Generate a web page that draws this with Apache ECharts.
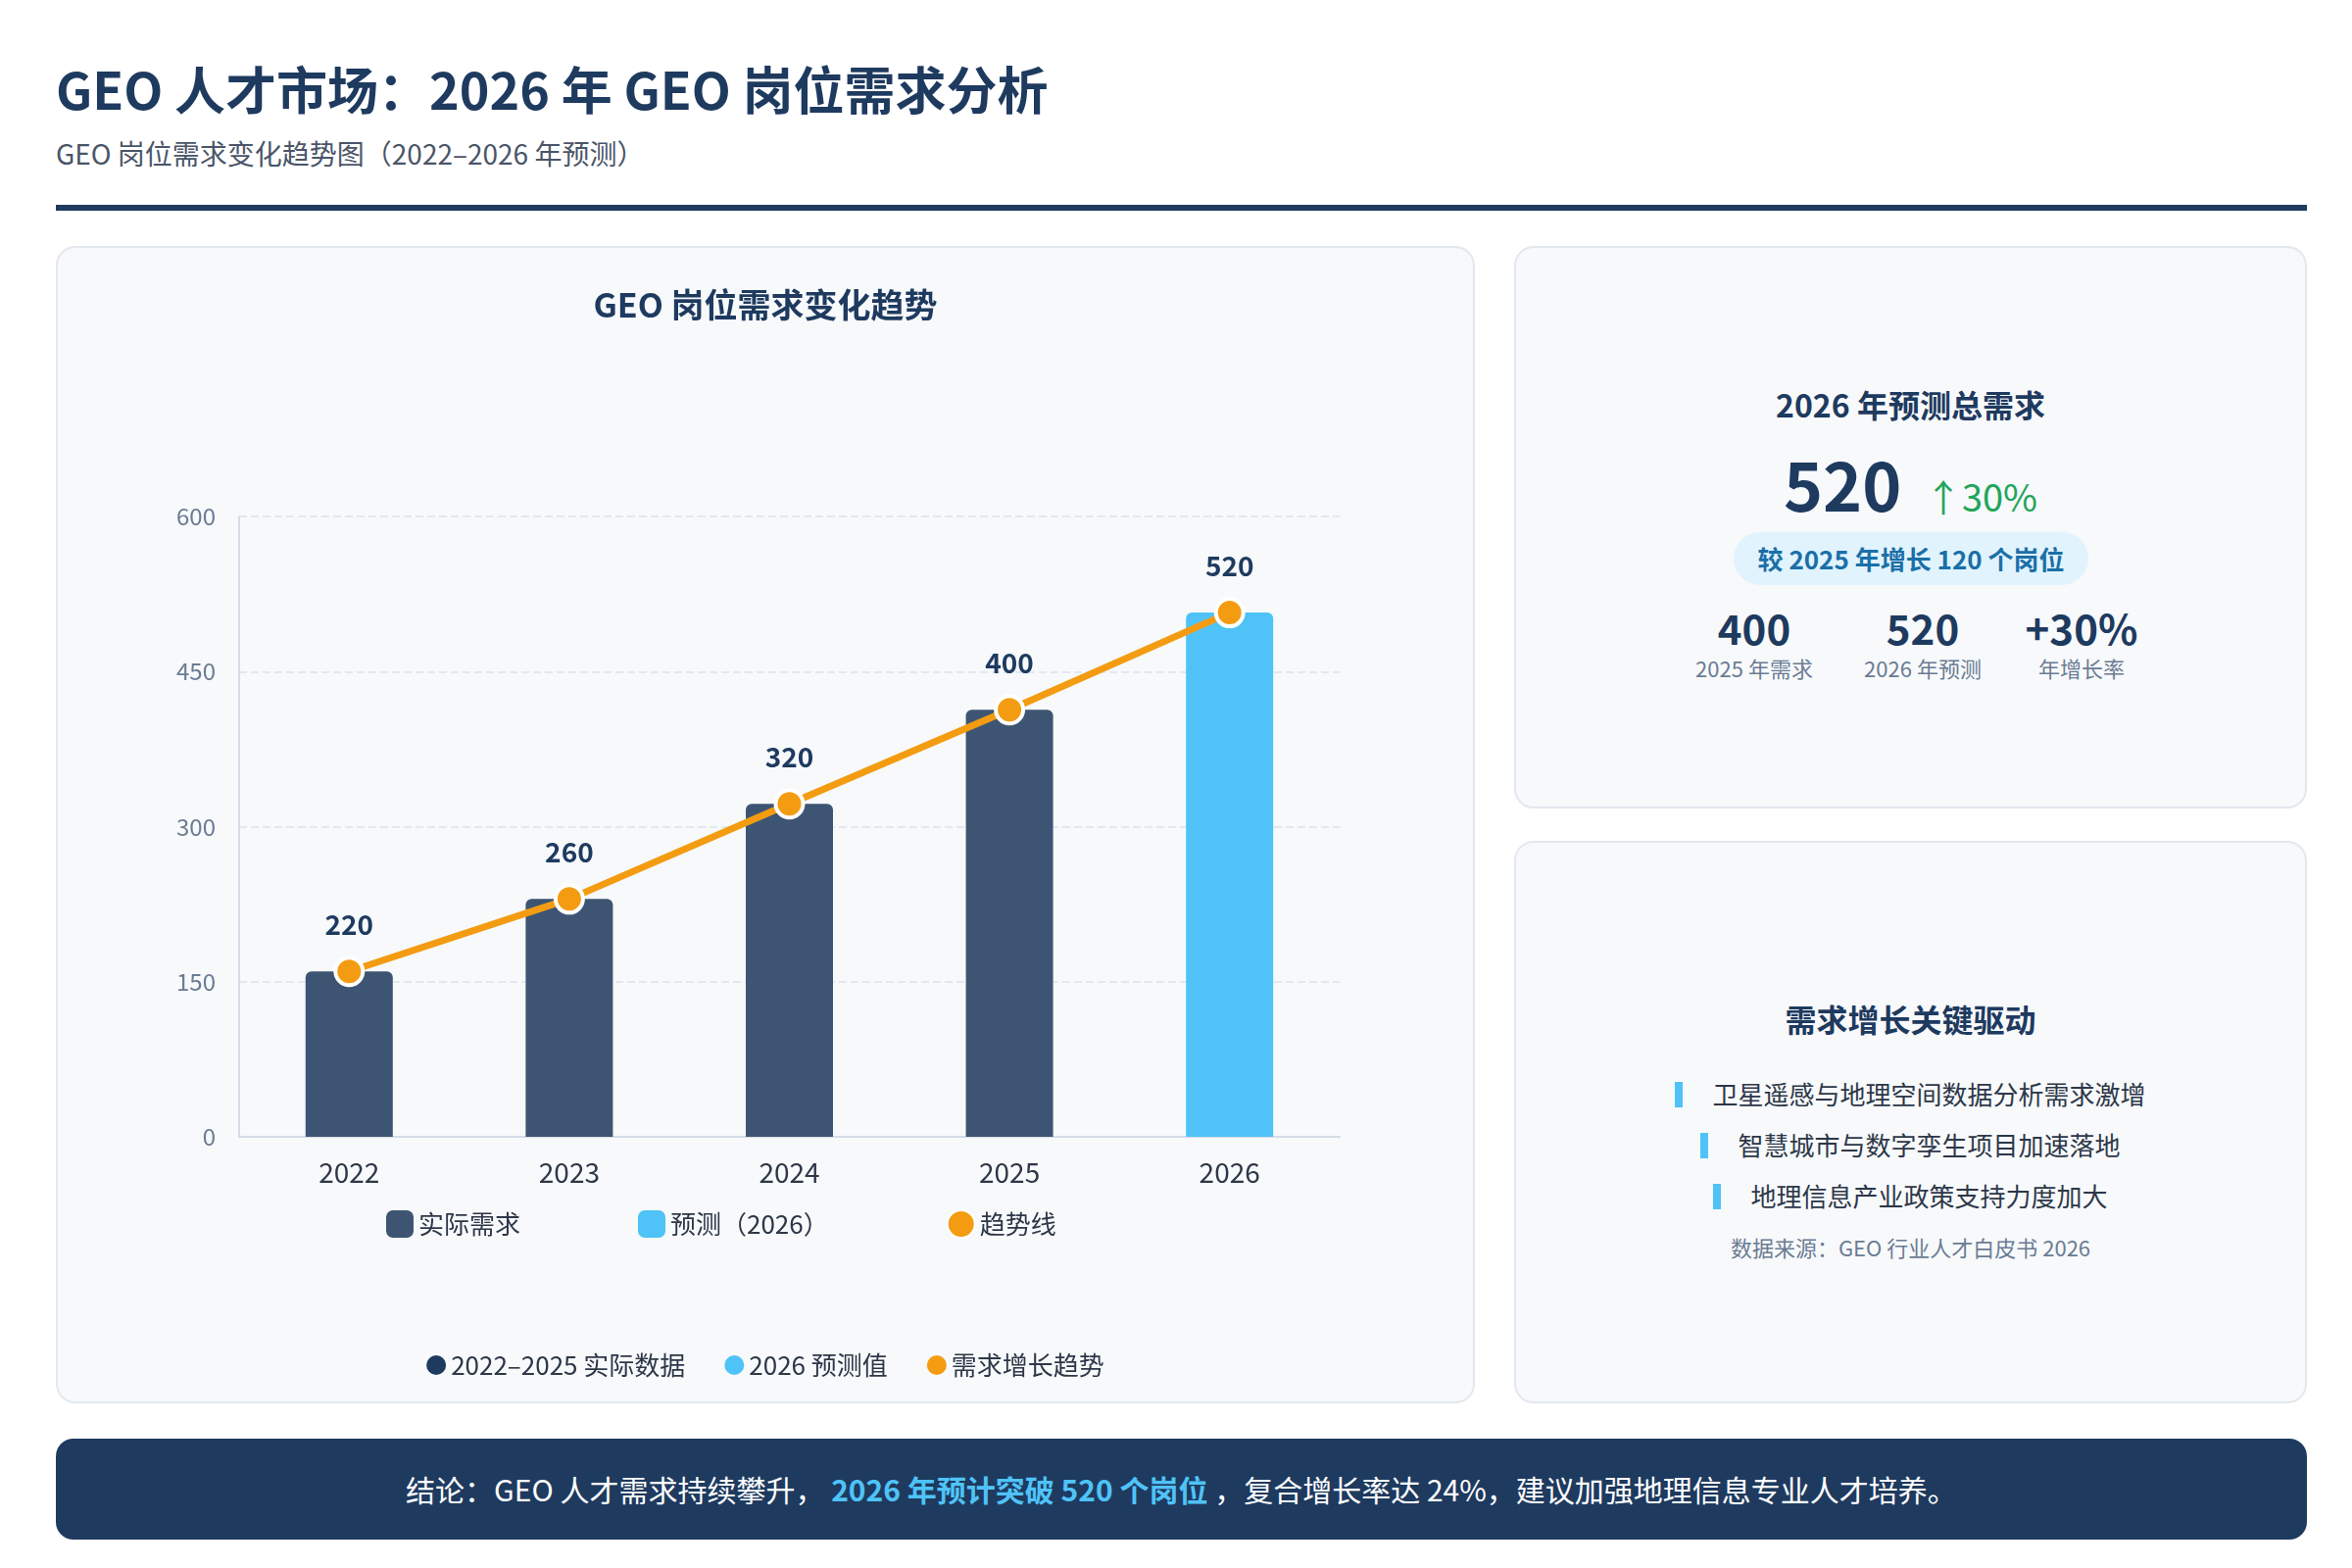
<html>
<meta charset="UTF-8">
<head>
    <script src="https://cdn.jsdelivr.net/npm/echarts@6/dist/echarts.min.js"></script>
    <style>
        body { margin:0; width:2400px; height:1600px; background:#fff; font-family:"Noto Sans CJK SC","Noto Sans",sans-serif; position:relative; overflow:hidden; color:#1e3a5f; }
        .abs { position:absolute; }
        .panel { position:absolute; background:#f7f9fb; border:2px solid #e3e8ef; border-radius:20px; box-sizing:border-box; }
        .c { text-align:center; }
    </style>
</head>
<body>
<div class="abs" style="left:57px;top:52px;font-size:52px;font-weight:700;">GEO 人才市场：2026 年 GEO 岗位需求分析</div>
<div class="abs" style="left:57px;top:136px;font-size:28px;color:#4a5568;">GEO 岗位需求变化趋势图（2022–2026 年预测）</div>
<div class="abs" style="left:57px;top:209px;width:2297px;height:6px;background:#1e3a5f;"></div>

<div class="panel" style="left:57px;top:251px;width:1448px;height:1181px;">
    <div id="chart" style="width:1444px;height:1177px;"></div>
</div>

<div class="panel" style="left:1545px;top:251px;width:809px;height:574px;">
    <div class="abs c" style="left:0;width:805px;top:136px;font-size:32px;font-weight:700;">2026 年预测总需求</div>
    <div class="abs c" style="left:0;width:805px;top:190px;">
        <span style="font-size:68px;font-weight:700;">520</span>
        <span style="font-size:38px;color:#22a55a;margin-left:20px;">↑30%</span>
    </div>
    <div class="abs c" style="left:222px;width:362px;top:290px;height:54px;line-height:54px;border-radius:27px;background:#e1f3fd;color:#1a6fa8;font-size:26px;font-weight:700;">较 2025 年增长 120 个岗位</div>
    <div class="abs c" style="left:163px;width:160px;top:356px;font-size:42px;font-weight:700;">400</div>
    <div class="abs c" style="left:163px;width:160px;top:412px;font-size:22px;color:#6b7c93;">2025 年需求</div>
    <div class="abs c" style="left:335px;width:160px;top:356px;font-size:42px;font-weight:700;">520</div>
    <div class="abs c" style="left:335px;width:160px;top:412px;font-size:22px;color:#6b7c93;">2026 年预测</div>
    <div class="abs c" style="left:497px;width:160px;top:356px;font-size:42px;font-weight:700;">+30%</div>
    <div class="abs c" style="left:497px;width:160px;top:412px;font-size:22px;color:#6b7c93;">年增长率</div>
</div>

<div class="panel" style="left:1545px;top:858px;width:809px;height:574px;">
    <div class="abs c" style="left:0;width:805px;top:156px;font-size:32px;font-weight:700;">需求增长关键驱动</div>
    <div class="abs c" style="left:0;width:805px;top:230px;font-size:26px;color:#2d3748;line-height:52px;">
        <div><span style="display:inline-block;width:8px;height:26px;background:#4fc3f7;margin-right:30px;vertical-align:-3px;"></span>卫星遥感与地理空间数据分析需求激增</div>
        <div><span style="display:inline-block;width:8px;height:26px;background:#4fc3f7;margin-right:30px;vertical-align:-3px;"></span>智慧城市与数字孪生项目加速落地</div>
        <div><span style="display:inline-block;width:8px;height:26px;background:#4fc3f7;margin-right:30px;vertical-align:-3px;"></span>地理信息产业政策支持力度加大</div>
        <div style="font-size:22px;color:#6b7c93;">数据来源：GEO 行业人才白皮书 2026</div>
    </div>
</div>

<div class="abs c" style="left:57px;top:1468px;width:2297px;height:103px;line-height:103px;background:#1e3a5f;border-radius:18px;color:#fff;font-size:30px;">
    结论：GEO 人才需求持续攀升， <span style="color:#4fc3f7;font-weight:700;">2026 年预计突破 520 个岗位</span> ，复合增长率达 24%，建议加强地理信息专业人才培养。
</div>

<script>
    var years = ['2022', '2023', '2024', '2025', '2026'];
    var actualValues = [160, 230, 322, 413, '-'];
    var forecastValues = ['-', '-', '-', '-', 507];
    var trendValues = [160, 230, 322, 413, 507];
    var pointLabels = ['220', '260', '320', '400', '520'];
    var yTicks = [0, 150, 300, 450, 600];

    var chart = echarts.init(document.getElementById('chart'));
    chart.setOption({
        animation: false,
        textStyle: { fontFamily: '"Noto Sans CJK SC","Noto Sans",sans-serif' },
        title: {
            text: 'GEO 岗位需求变化趋势', left: 'center', top: 36,
            textStyle: { fontSize: 34, fontWeight: 'bold', color: '#1e3a5f' }
        },
        legend: [{
            data: [
                { name: '实际需求', icon: 'roundRect' },
                { name: '预测（2026）', icon: 'roundRect' },
                { name: '趋势线', icon: 'circle' }
            ],
            left: 330, top: 976, itemWidth: 28, itemHeight: 28, itemGap: 120,
            textStyle: { fontSize: 26, color: '#2d3748' }
        }, {
            data: [
                { name: '2022–2025 实际数据', icon: 'circle' },
                { name: '2026 预测值', icon: 'circle' },
                { name: '需求增长趋势', icon: 'circle' }
            ],
            left: 'center', top: 1122, itemWidth: 20, itemHeight: 20, itemGap: 40,
            textStyle: { fontSize: 26, color: '#2d3748' }
        }],
        grid: { left: 185, right: 136, top: 274, bottom: 270 },
        xAxis: {
            type: 'category', data: years,
            axisLine: { lineStyle: { color: '#d5dce5', width: 2 } },
            axisTick: { show: false },
            axisLabel: { fontSize: 28, color: '#2d3748', margin: 22 }
        },
        yAxis: {
            type: 'value', min: 0, max: 600, interval: 150,
            axisLine: { show: true, lineStyle: { color: '#d5dce5', width: 2 } },
            axisLabel: { fontSize: 24, color: '#6b7c93', margin: 24 },
            splitLine: { lineStyle: { type: 'dashed', color: '#e3e8ef', width: 2 } }
        },
        series: [{
            name: '实际需求', type: 'bar', stack: 'a', data: actualValues, barWidth: 89,
            itemStyle: { color: '#3d5573', borderRadius: [6, 6, 0, 0] }
        }, {
            name: '预测（2026）', type: 'bar', stack: 'a', data: forecastValues, barWidth: 89,
            itemStyle: { color: '#4fc3f7', borderRadius: [6, 6, 0, 0] }
        }, {
            name: '趋势线', type: 'line', data: trendValues, z: 5,
            lineStyle: { color: '#f39c12', width: 7 },
            symbol: 'circle', symbolSize: 28,
            itemStyle: { color: '#f39c12', borderColor: '#fff', borderWidth: 4 },
            label: {
                show: true, position: 'top', distance: 18, fontSize: 28, fontWeight: 'bold', color: '#1e3a5f',
                formatter: function (p) { return pointLabels[p.dataIndex]; }
            }
        }, {
            name: '2022–2025 实际数据', type: 'line', data: [], itemStyle: { color: '#1e3a5f' }
        }, {
            name: '2026 预测值', type: 'line', data: [], itemStyle: { color: '#4fc3f7' }
        }, {
            name: '需求增长趋势', type: 'line', data: [], itemStyle: { color: '#f39c12' }
        }]
    });
</script>
</body>
</html>
